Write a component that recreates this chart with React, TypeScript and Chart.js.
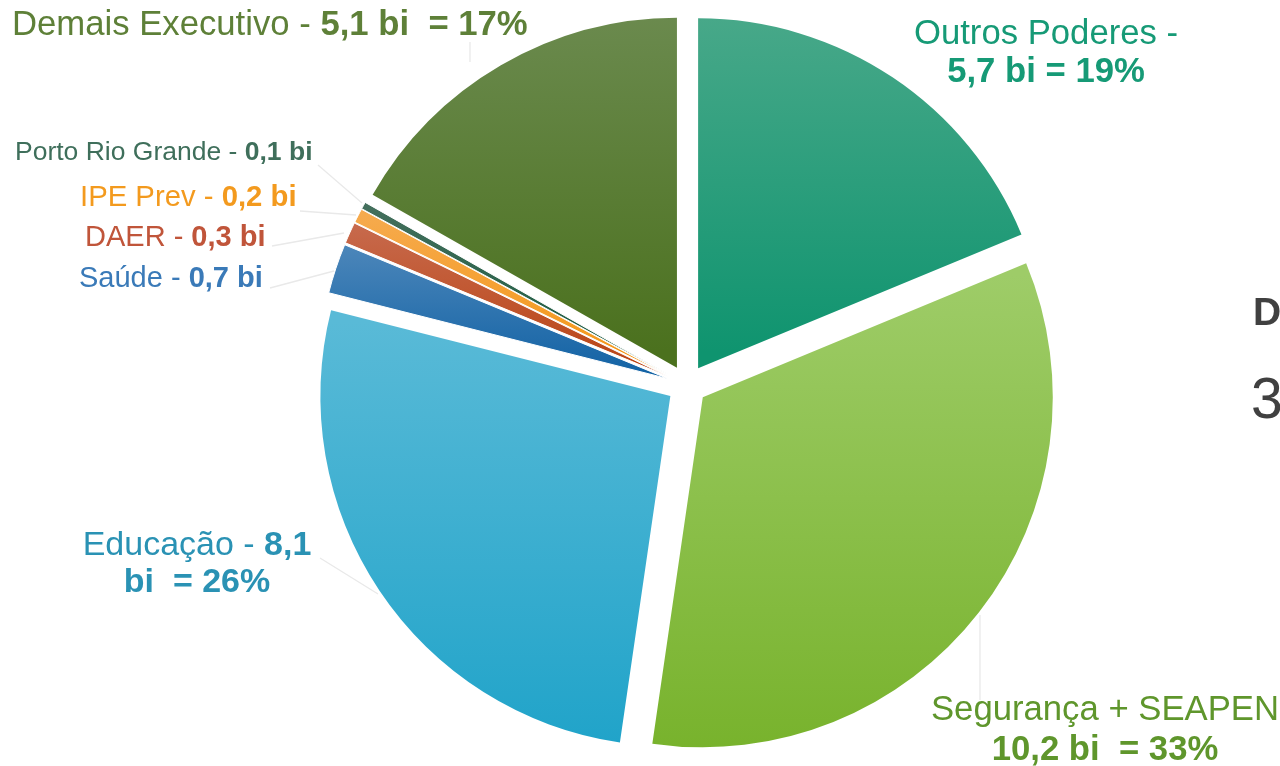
import React, { useEffect, useRef } from "react";
import { Chart, registerables, ArcElement } from "chart.js";

Chart.register(...registerables);

// ---------- data ----------
const categories = [
  "Outros Poderes",
  "Segurança + SEAPEN",
  "Educação",
  "Saúde",
  "DAER",
  "IPE Prev",
  "Porto Rio Grande",
  "Demais Executivo",
];
const values = [5.7, 10.2, 8.1, 0.7, 0.3, 0.2, 0.1, 5.1];
const valueTexts = ["5,7", "10,2", "8,1", "0,7", "0,3", "0,2", "0,1", "5,1"];
const percentTexts = ["19%", "33%", "26%", "", "", "", "", "17%"];
const unitText = "bi";
const totalTitle = "Despesa Total";
const totalText = "30,4 bi";

// ---------- styles ----------
const topColors = ["#4aa98a", "#9ecc68", "#59bad7", "#4f88bb", "#c86c50", "#f6ac52", "#47715f", "#6c8b50"];
const bottomColors = ["#0f946f", "#77b22b", "#1fa3c9", "#1363a5", "#ba4414", "#f49716", "#195a3f", "#4b711e"];
const labelColors = ["#169a76", "#5f962c", "#2a92b4", "#3a7ab8", "#c0553a", "#f39a1e", "#3f6f5b", "#5e8038"];
const borderWidths = [0, 0, 0, 1, 1, 1, 1, 0];

const EXPLODE = 20;
const RADIUS = 350;
const FONT = "'Liberation Sans', Arial, sans-serif";

// explode every slice outward along its mid angle
const baseArcDraw = ArcElement.prototype.draw;
(ArcElement.prototype as any).draw = function (ctx: CanvasRenderingContext2D) {
  const half = (this.startAngle + this.endAngle) / 2;
  ctx.save();
  ctx.translate(Math.cos(half) * EXPLODE, Math.sin(half) * EXPLODE);
  baseArcDraw.call(this, ctx);
  ctx.restore();
};

function sliceGradient(chart: any, i: number) {
  const area = chart.chartArea;
  if (!area) return bottomColors[i];
  const cy = (area.top + area.bottom) / 2;
  const total = values.reduce((a, b) => a + b, 0);
  const before = values.slice(0, i).reduce((a, b) => a + b, 0);
  const a0 = (before / total) * Math.PI * 2;
  const a1 = ((before + values[i]) / total) * Math.PI * 2;
  const mid = (a0 + a1) / 2;
  const oy = -Math.cos(mid) * EXPLODE;
  const ys = [cy + oy, cy + oy - RADIUS * Math.cos(a0), cy + oy - RADIUS * Math.cos(a1)];
  [0, Math.PI, Math.PI * 2].forEach((k) => {
    if (k > a0 && k < a1) ys.push(cy + oy - RADIUS * Math.cos(k));
  });
  const top = Math.min(...ys);
  const bottom = Math.max(...ys);
  const g = chart.ctx.createLinearGradient(0, top, 0, bottom);
  g.addColorStop(0, topColors[i]);
  g.addColorStop(1, bottomColors[i]);
  return g;
}

type Part = [string, boolean];
type LabelSpec = {
  i: number;
  x: number;
  ys: number[];
  align: "left" | "center";
  size: number;
  lines: Part[][];
};

const labelSpecs: LabelSpec[] = [
  {
    i: 0, x: 1046, ys: [44, 82], align: "center", size: 34.7,
    lines: [[[`${categories[0]} -`, false]], [[`${valueTexts[0]} ${unitText} = ${percentTexts[0]}`, true]]],
  },
  {
    i: 1, x: 1105, ys: [720, 760], align: "center", size: 34.7,
    lines: [[[categories[1], false]], [[`${valueTexts[1]} ${unitText}  = ${percentTexts[1]}`, true]]],
  },
  {
    i: 2, x: 197, ys: [555, 592], align: "center", size: 34,
    lines: [[[`${categories[2]} - `, false], [valueTexts[2], true]], [[`${unitText}  = ${percentTexts[2]}`, true]]],
  },
  { i: 3, x: 79, ys: [287], align: "left", size: 29, lines: [[[`${categories[3]} - `, false], [`${valueTexts[3]} ${unitText}`, true]]] },
  { i: 4, x: 85, ys: [246], align: "left", size: 29, lines: [[[`${categories[4]} - `, false], [`${valueTexts[4]} ${unitText}`, true]]] },
  { i: 5, x: 80, ys: [206], align: "left", size: 29.3, lines: [[[`${categories[5]} - `, false], [`${valueTexts[5]} ${unitText}`, true]]] },
  { i: 6, x: 15, ys: [160], align: "left", size: 26.5, lines: [[[`${categories[6]} - `, false], [`${valueTexts[6]} ${unitText}`, true]]] },
  {
    i: 7, x: 12, ys: [35], align: "left", size: 34.7,
    lines: [[[`${categories[7]} - `, false], [`${valueTexts[7]} ${unitText}  = ${percentTexts[7]}`, true]]],
  },
];

const leaderLines: number[][] = [
  [318, 165, 362, 203],
  [300, 211, 356, 215],
  [272, 246, 344, 233],
  [270, 288, 334, 271],
  [320, 558, 378, 594],
  [470, 42, 470, 62],
  [980, 615, 980, 700],
];

const labelPlugin = {
  id: "sliceLabels",
  afterDraw(chart: any) {
    const ctx: CanvasRenderingContext2D = chart.ctx;
    ctx.save();
    ctx.strokeStyle = "#e9e9e9";
    ctx.lineWidth = 1.3;
    leaderLines.forEach(([x1, y1, x2, y2]) => {
      ctx.beginPath();
      ctx.moveTo(x1, y1);
      ctx.lineTo(x2, y2);
      ctx.stroke();
    });
    ctx.textBaseline = "alphabetic";
    ctx.textAlign = "left";
    labelSpecs.forEach((spec) => {
      ctx.fillStyle = labelColors[spec.i];
      spec.lines.forEach((parts, li) => {
        const widths = parts.map(([t, b]) => {
          ctx.font = `${b ? "bold " : ""}${spec.size}px ${FONT}`;
          return ctx.measureText(t).width;
        });
        const totalW = widths.reduce((a, b) => a + b, 0);
        let x = spec.align === "center" ? spec.x - totalW / 2 : spec.x;
        parts.forEach(([t, b], pi) => {
          ctx.font = `${b ? "bold " : ""}${spec.size}px ${FONT}`;
          ctx.fillText(t, x, spec.ys[li]);
          x += widths[pi];
        });
      });
    });
    ctx.fillStyle = "#404040";
    ctx.font = `bold 39px ${FONT}`;
    ctx.fillText(totalTitle, 1253, 325);
    ctx.font = `57px ${FONT}`;
    ctx.fillText(totalText, 1251, 418);
    ctx.restore();
  },
};

export default function App() {
  const ref = useRef<HTMLCanvasElement | null>(null);
  useEffect(() => {
    if (!ref.current) return;
    const chart = new Chart(ref.current, {
      type: "pie",
      data: {
        labels: categories,
        datasets: [
          {
            data: values,
            backgroundColor: (c: any) => sliceGradient(c.chart, c.dataIndex),
            borderColor: "#ffffff",
            borderWidth: borderWidths,
          },
        ],
      },
      options: {
        responsive: false,
        animation: false,
        radius: RADIUS,
        layout: { padding: { left: 94, top: 4, right: 0, bottom: 0 } },
        plugins: { legend: { display: false }, tooltip: { enabled: false } },
        events: [],
      } as any,
      plugins: [labelPlugin],
    });
    return () => chart.destroy();
  }, []);
  return (
    <div style={{ position: "absolute", left: 0, top: 0, width: 1280, height: 766, background: "#fff" }}>
      <canvas ref={ref} width={1280} height={766} style={{ display: "block" }} />
    </div>
  );
}
